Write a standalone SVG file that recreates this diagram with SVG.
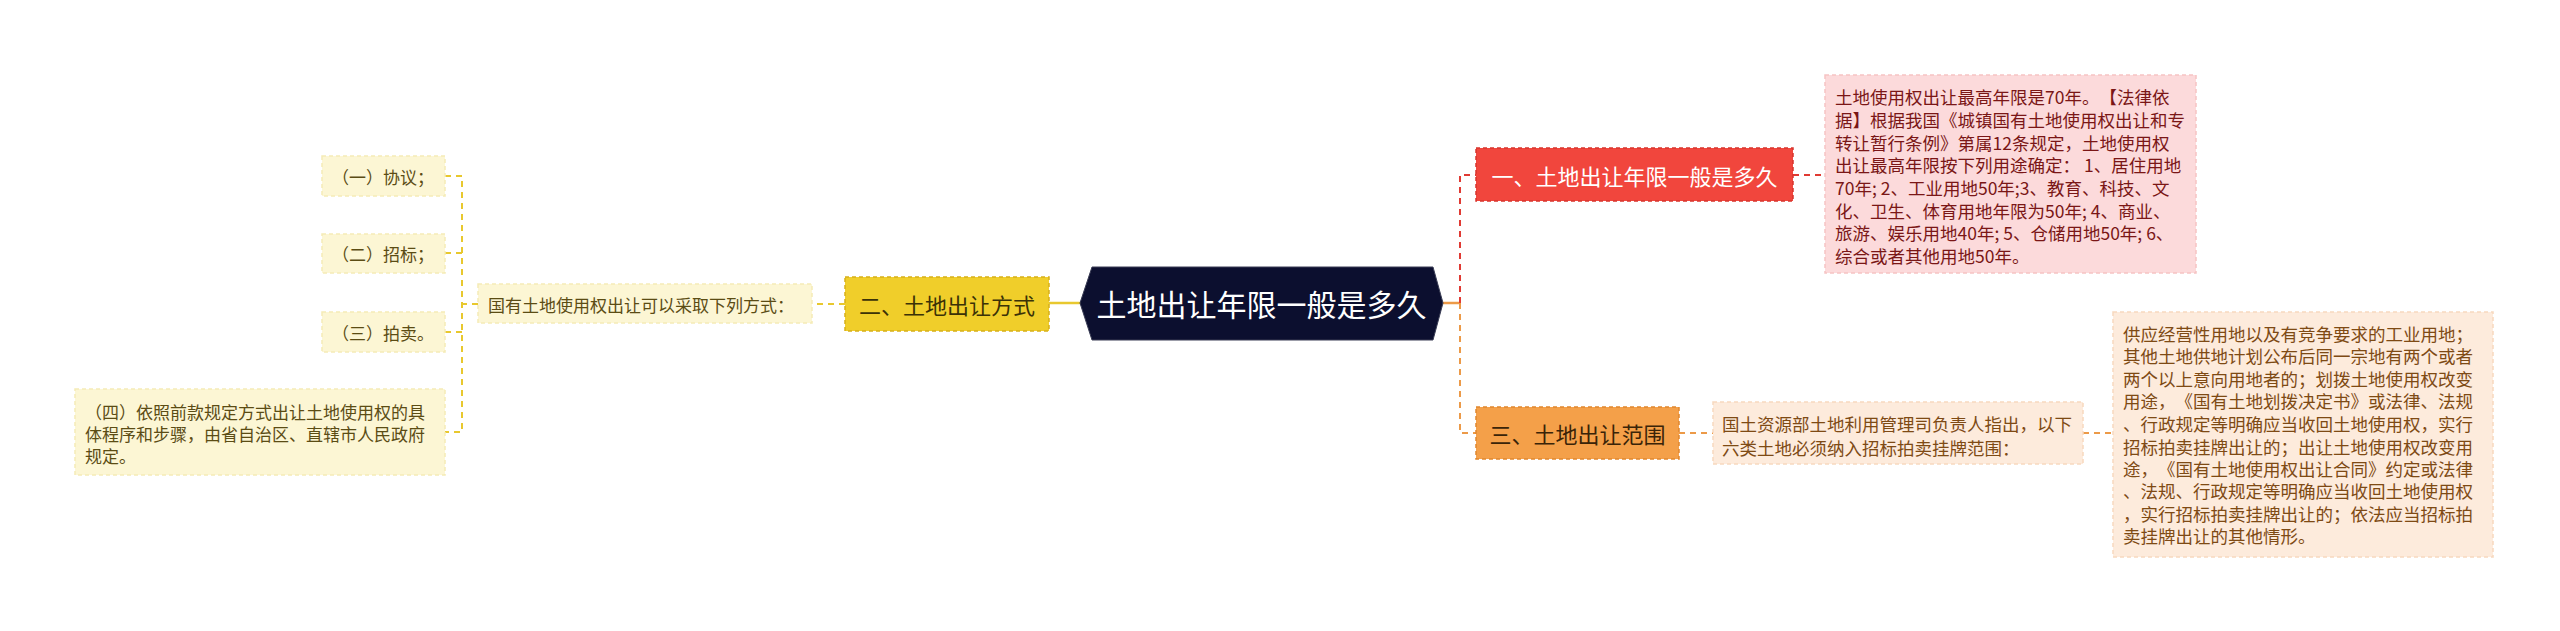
<svg xmlns="http://www.w3.org/2000/svg" width="2560" height="631" viewBox="0 0 2560 631">
<style>
text{font-family:"Noto Sans CJK SC","Noto Sans",sans-serif;dominant-baseline:central;text-spacing-trim:space-all}
.c{text-anchor:middle}
.dash{fill:none;stroke-width:2;stroke-dasharray:6 5}
.y{stroke:#e8c82e}
.r{stroke:#e03a33}
.o{stroke:#ec9a48}
.leaf{fill:#fcf6d4;stroke:#f5ebb6;stroke-width:1.5;stroke-dasharray:4 3}
.lt{font-size:17px;fill:#5b4c14}
.rd{fill:#fcdadb;stroke:#f6c4c4;stroke-width:1.5;stroke-dasharray:4 3}
.rt{font-size:17.5px;fill:#7a1616}
.od{fill:#fdebdc;stroke:#f7d9bf;stroke-width:1.5;stroke-dasharray:4 3}
.ot{font-size:17.5px;fill:#7e4a14}
</style>
<rect width="2560" height="631" fill="#ffffff"/>
<g id="connectors">
<line x1="1081" y1="303" x2="1049" y2="303" stroke="#e8c82e" stroke-width="2.5"/>
<line class="dash y" x1="845" y1="304" x2="812" y2="304"/>
<line class="dash y" x1="478" y1="304" x2="462" y2="304"/>
<path class="dash y" d="M445 176 H462 V432 H445 M445 253 H462 M445 332 H462"/>
<line x1="1443" y1="303" x2="1460" y2="303" stroke="#ec9a48" stroke-width="2.5"/>
<path class="dash r" d="M1460 303 V175 H1476"/>
<path class="dash o" d="M1460 303 V433 H1476"/>
<line class="dash r" x1="1793" y1="175" x2="1825" y2="175"/>
<line class="dash o" x1="1679" y1="433" x2="1713" y2="433"/>
<line class="dash o" x1="2083" y1="433" x2="2113" y2="433"/>
</g>
<g id="root">
<polygon points="1080,303 1092,267 1433,267 1443,303 1433,340 1092,340" fill="#0c0f2f" stroke="#3a3d55" stroke-width="1"/>
<text class="c" x="1261.5" y="303" font-size="30" fill="#ffffff">土地出让年限一般是多久</text>
</g>
<g id="n1">
<rect x="1476" y="148" width="317" height="53" fill="#f1463d" stroke="#d8352d" stroke-width="1.5" stroke-dasharray="4 3"/>
<text class="c" x="1634.5" y="175" font-size="22" fill="#ffffff">一、土地出让年限一般是多久</text>
</g>
<g id="n1d">
<rect class="rd" x="1825" y="75" width="371" height="198"/>
<text class="rt" x="1835" y="96">土地使用权出让最高年限是70年。【法律依</text>
<text class="rt" x="1835" y="119">据】根据我国《城镇国有土地使用权出让和专</text>
<text class="rt" x="1835" y="142">转让暂行条例》第属12条规定，土地使用权</text>
<text class="rt" x="1835" y="164">出让最高年限按下列用途确定： 1、居住用地</text>
<text class="rt" x="1835" y="187">70年; 2、工业用地50年;3、教育、科技、文</text>
<text class="rt" x="1835" y="210">化、卫生、体育用地年限为50年; 4、商业、</text>
<text class="rt" x="1835" y="232">旅游、娱乐用地40年; 5、仓储用地50年; 6、</text>
<text class="rt" x="1835" y="255">综合或者其他用地50年。</text>
</g>
<g id="n2">
<rect x="845" y="277" width="204" height="54" fill="#f0ce2a" stroke="#d6b01a" stroke-width="1.5" stroke-dasharray="4 3"/>
<text class="c" x="947" y="304" font-size="22" fill="#3b3207">二、土地出让方式</text>
</g>
<g id="n2d">
<rect class="leaf" x="478" y="284" width="334" height="39"/>
<text class="lt" x="488" y="304">国有土地使用权出让可以采取下列方式：</text>
</g>
<g id="l1">
<rect class="leaf" x="322" y="156" width="123" height="40"/>
<text class="lt c" x="383" y="176">（一）协议；</text>
</g>
<g id="l2">
<rect class="leaf" x="322" y="234" width="123" height="39"/>
<text class="lt c" x="383" y="253">（二）招标；</text>
</g>
<g id="l3">
<rect class="leaf" x="322" y="312" width="123" height="40"/>
<text class="lt c" x="383" y="332">（三）拍卖。</text>
</g>
<g id="l4">
<rect class="leaf" x="75" y="389" width="370" height="86"/>
<text class="lt" x="85" y="411">（四）依照前款规定方式出让土地使用权的具</text>
<text class="lt" x="85" y="433">体程序和步骤，由省自治区、直辖市人民政府</text>
<text class="lt" x="85" y="455">规定。</text>
</g>
<g id="n3">
<rect x="1476" y="407" width="203" height="52" fill="#f4a049" stroke="#e0862e" stroke-width="1.5" stroke-dasharray="4 3"/>
<text class="c" x="1577.5" y="433" font-size="22" fill="#3a2408">三、土地出让范围</text>
</g>
<g id="n3d">
<rect class="od" x="1713" y="402" width="370" height="62"/>
<text class="ot" x="1722" y="423">国土资源部土地利用管理司负责人指出，以下</text>
<text class="ot" x="1722" y="447">六类土地必须纳入招标拍卖挂牌范围：</text>
</g>
<g id="n3e">
<rect class="od" x="2113" y="312" width="380" height="245"/>
<text class="ot" x="2123" y="333">供应经营性用地以及有竞争要求的工业用地；</text>
<text class="ot" x="2123" y="355">其他土地供地计划公布后同一宗地有两个或者</text>
<text class="ot" x="2123" y="378">两个以上意向用地者的；划拨土地使用权改变</text>
<text class="ot" x="2123" y="400">用途，《国有土地划拨决定书》或法律、法规</text>
<text class="ot" x="2123" y="423">、行政规定等明确应当收回土地使用权，实行</text>
<text class="ot" x="2123" y="446">招标拍卖挂牌出让的；出让土地使用权改变用</text>
<text class="ot" x="2123" y="468">途，《国有土地使用权出让合同》约定或法律</text>
<text class="ot" x="2123" y="490">、法规、行政规定等明确应当收回土地使用权</text>
<text class="ot" x="2123" y="513">，实行招标拍卖挂牌出让的；依法应当招标拍</text>
<text class="ot" x="2123" y="535">卖挂牌出让的其他情形。</text>
</g>
</svg>
